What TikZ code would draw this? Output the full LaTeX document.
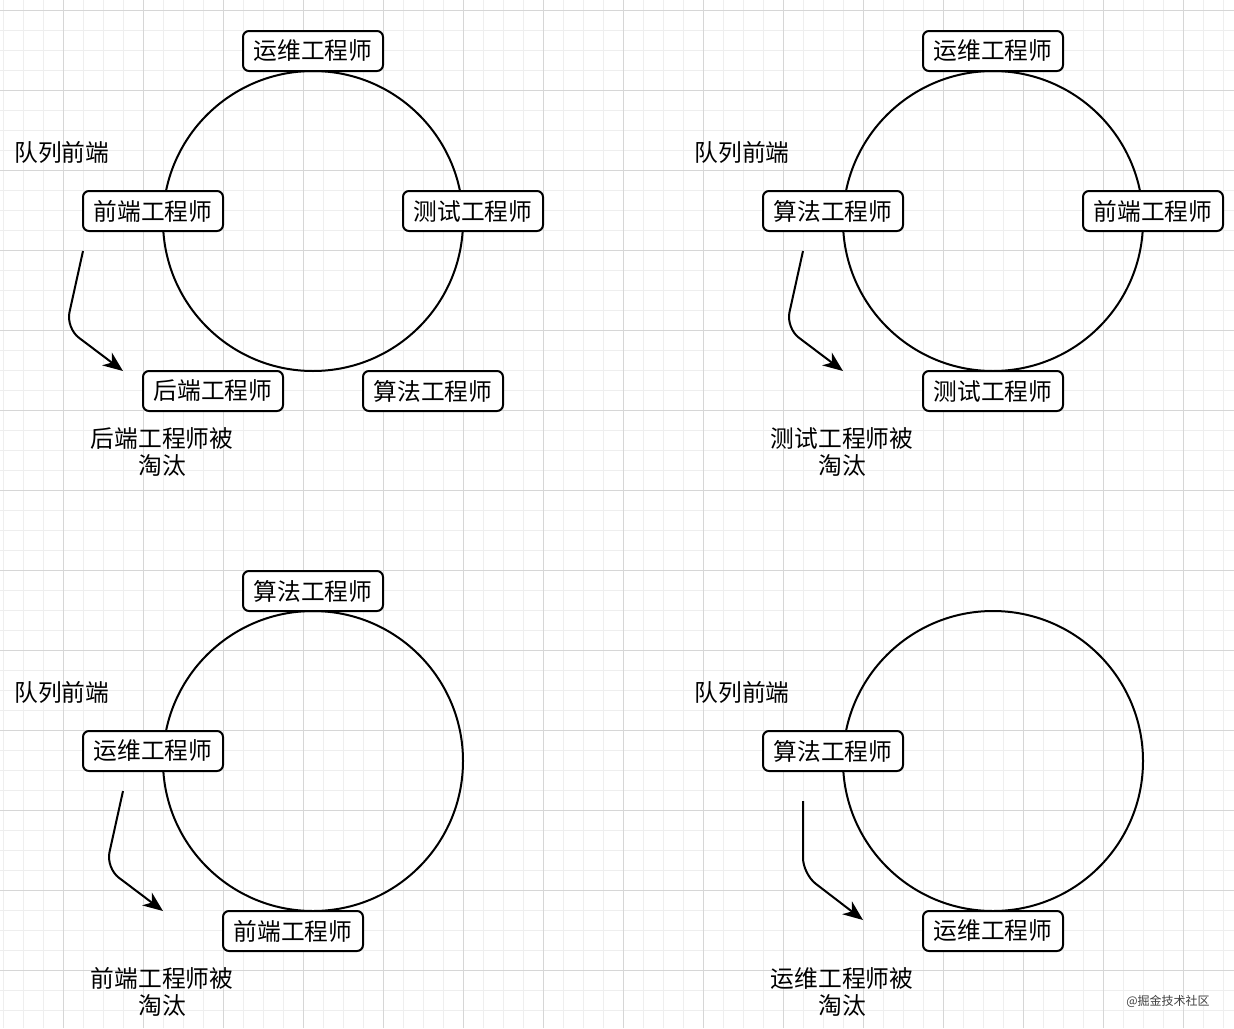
\documentclass[tikz,border=0pt]{standalone}
\usepackage{fontspec}
\setmainfont{Noto Sans CJK SC}
\usetikzlibrary{arrows.meta}

\definecolor{gridminor}{RGB}{238,238,238}
\definecolor{gridmajor}{RGB}{214,214,214}

\tikzset{
  role/.style={draw, line width=1.5pt, rounded corners=4.5pt, fill=white, minimum width=105pt, minimum height=30pt, inner sep=0pt, font=\fontsize{17.8}{21}\selectfont},
  ring/.style={draw, circle, line width=1.5pt, minimum size=225pt, inner sep=0pt},
  note/.style={inner sep=0pt, align=center, font=\fontsize{17.8}{20.5}\selectfont},
  flow/.style={line width=1.5pt, rounded corners=12pt, -{Stealth[length=15pt,width=12pt,inset=4.5pt]}},
}

\begin{document}
\begin{tikzpicture}[x=0.75pt,y=0.75pt,yscale=-1,xscale=1]
\useasboundingbox (0,0) rectangle (1234,1028);
\fill[white] (0,0) rectangle (1234,1028);

% grid
\foreach \gx in {3,23,...,1223} \draw[gridminor, line width=0.75pt] (\gx,0) -- (\gx,1028);
\foreach \gy in {10,30,...,1010} \draw[gridminor, line width=0.75pt] (0,\gy) -- (1234,\gy);
\foreach \gx in {63,143,...,1183} \draw[gridmajor, line width=0.75pt] (\gx,0) -- (\gx,1028);
\foreach \gy in {10,90,...,970} \draw[gridmajor, line width=0.75pt] (0,\gy) -- (1234,\gy);

% top left
\node[ring] (ringA) at (313,221) {};
\node[role] (opsA) at (313,51) {运维工程师};
\node[role] (feA) at (153,211) {前端工程师};
\node[role] (qaA) at (473,211) {测试工程师};
\node[role] (beA) at (213,391) {后端工程师};
\node[role] (algoA) at (433,391) {算法工程师};
\node[note] (headA) at (62,152) {队列前端};
\node[note] (outA) at (162,452) {后端工程师被\\淘汰};
\coordinate (fromA) at (83,251);
\coordinate (toA) at (123,371);
\draw[flow] (fromA) -- (66,328) -- (toA);

% top right
\node[ring] (ringB) at (993,221) {};
\node[role] (opsB) at (993,51) {运维工程师};
\node[role] (algoB) at (833,211) {算法工程师};
\node[role] (feB) at (1153,211) {前端工程师};
\node[role] (qaB) at (993,391) {测试工程师};
\node[note] (headB) at (742,152) {队列前端};
\node[note] (outB) at (842,452) {测试工程师被\\淘汰};
\coordinate (fromB) at (803,251);
\coordinate (toB) at (843,371);
\draw[flow] (fromB) -- (786,328) -- (toB);

% bottom left
\node[ring] (ringC) at (313,761) {};
\node[role] (algoC) at (313,591) {算法工程师};
\node[role] (opsC) at (153,751) {运维工程师};
\node[role] (feC) at (293,931) {前端工程师};
\node[note] (headC) at (62,692) {队列前端};
\node[note] (outC) at (162,992) {前端工程师被\\淘汰};
\coordinate (fromC) at (123,791);
\coordinate (toC) at (163,911);
\draw[flow] (fromC) -- (106,868) -- (toC);

% bottom right
\node[ring] (ringD) at (993,761) {};
\node[role] (algoD) at (833,751) {算法工程师};
\node[role] (opsD) at (993,931) {运维工程师};
\node[note] (headD) at (742,692) {队列前端};
\node[note] (outD) at (842,992) {运维工程师被\\淘汰};
\coordinate (fromD) at (803,801);
\coordinate (toD) at (863,920);
\draw[flow] (fromD) -- (803,874) -- (toD);

% watermark
\node[inner sep=0pt, text=black!75, font=\fontsize{9}{10}\selectfont] (mark) at (1168,1001) {@掘金技术社区};

\end{tikzpicture}
\end{document}
